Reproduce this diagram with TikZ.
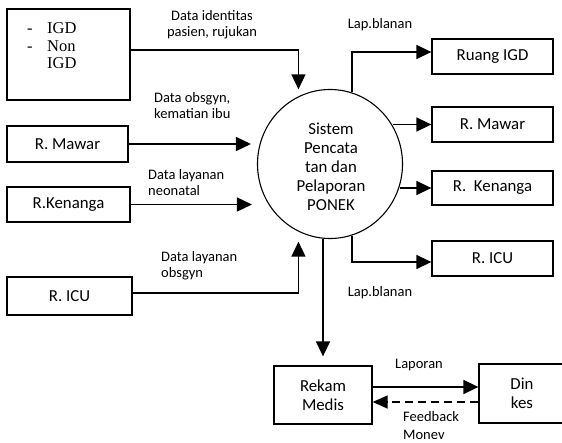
\documentclass[tikz,border=0pt]{standalone}
\usepackage{fontspec}
\setmainfont{Carlito}
\newfontfamily\timesf{Liberation Serif}
\usetikzlibrary{arrows.meta,shapes.geometric,calc}
\begin{document}
\begin{tikzpicture}[x=1pt,y=-1pt,
  box/.style={draw, line width=1.3pt, inner sep=0pt, font=\fontsize{16.8}{19}\selectfont, align=center},
  lbl/.style={inner sep=0pt, font=\fontsize{14.5}{16}\selectfont, align=left},
  sertxt/.style={inner sep=0pt, font=\timesf\fontsize{16.5}{18}\selectfont, anchor=base west},
  arr/.style={line width=1.6pt, -{Triangle[length=15pt,width=14pt]}},
  dasharr/.style={line width=1.5pt, dash pattern=on 8pt off 5pt, -{Triangle[length=15pt,width=13pt]}}]
\useasboundingbox (0,0) rectangle (562,443);
\clip (0,0) rectangle (562,443);

% central process
\node[draw, ellipse, line width=1.1pt, minimum width=145pt, minimum height=149pt, inner sep=0pt] (circ) at (330,164) {};
\node[inner sep=0pt, align=center, font=\fontsize{16.8}{19}\selectfont] (circtxt) at (331,167) {Sistem\\Pencata\\tan dan\\Pelaporan\\PONEK};

% top-left source box
\node[box, minimum width=123pt, minimum height=91pt] (igd) at (68.5,54.5) {};
\node[sertxt] (igd1) at (27,34) {\makebox[20pt][l]{-}IGD};
\node[sertxt] (igd2) at (27,52) {\makebox[20pt][l]{-}Non};
\node[sertxt] (igd3) at (47,69) {IGD};

% left boxes
\node[box, minimum width=121pt, minimum height=36pt] (lmawar) at (67.5,144) {R. Mawar};
\node[box, minimum width=123pt, minimum height=35pt] (lkenanga) at (68.5,204.5) {R.Kenanga};
\node[box, minimum width=125pt, minimum height=38pt] (licu) at (69.5,296) {R. ICU};

% right boxes
\node[box, minimum width=121pt, minimum height=35pt] (rigd) at (492.5,56.5) {Ruang IGD};
\node[box, minimum width=121pt, minimum height=35pt] (rmawar) at (492.5,124.5) {R. Mawar};
\node[box, minimum width=121pt, minimum height=34pt] (rkenanga) at (492.5,188) {R.\ \ Kenanga};
\node[box, minimum width=121pt, minimum height=35pt] (ricu) at (492.5,258.5) {R. ICU};

% bottom boxes
\node[box, minimum width=98pt, minimum height=58pt] (rekam) at (323,395) {Rekam\\Medis};
\node[box, minimum width=86pt, minimum height=59pt] (dinkes) at (522,393.5) {Din\\kes};

% incoming connectors
\draw[arr] ([yshift=4.5pt]igd.east) -| ([yshift=7pt]circ.115);
\draw[arr] (lmawar.east) -- ([xshift=-6pt]lmawar.east -| circ.west);
\draw[arr] (lkenanga.east) -- ([xshift=-5pt]lkenanga.east -| circ.west);
\draw[arr] ([yshift=3pt]licu.east) -| ([yshift=-10pt]circ.245);

% outgoing connectors
\draw[arr] (circ.73) |- ([yshift=4.5pt]rigd.west);
\draw[arr] (rmawar.west -| circ.31) -- (rmawar.west);
\draw[arr] (rkenanga.west -| circ.342) -- (rkenanga.west);
\draw[arr] (circ.287) |- ([yshift=-3.5pt]ricu.west);
\draw[arr] (circ.265 -| rekam.north) -- ([yshift=9pt]rekam.north);

% bottom exchange
\draw[arr] ([yshift=8pt]rekam.east) -- ([yshift=8pt]rekam.east -| dinkes.west);
\draw[dasharr] ([yshift=-7pt]rekam.east -| dinkes.west) -- ([yshift=-7pt]rekam.east);

% labels
\node[lbl, align=center] (l1) at (212,25) {Data identitas\\pasien, rujukan};
\node[lbl, anchor=west] (l2) at (154,105.5) {Data obsgyn,\\kematian ibu};
\node[lbl, anchor=west] (l3) at (148,182.5) {Data layanan\\neonatal};
\node[lbl, anchor=west] (l4) at (161,265.5) {Data layanan\\obsgyn};
\node[lbl] (l5) at (380,25) {Lap.blanan};
\node[lbl] (l6) at (380,293) {Lap.blanan};
\node[lbl] (l7) at (419,365) {Laporan};
\node[lbl, anchor=west] (l8) at (403,426) {Feedback\\[2pt]Monev};
\end{tikzpicture}
\end{document}
